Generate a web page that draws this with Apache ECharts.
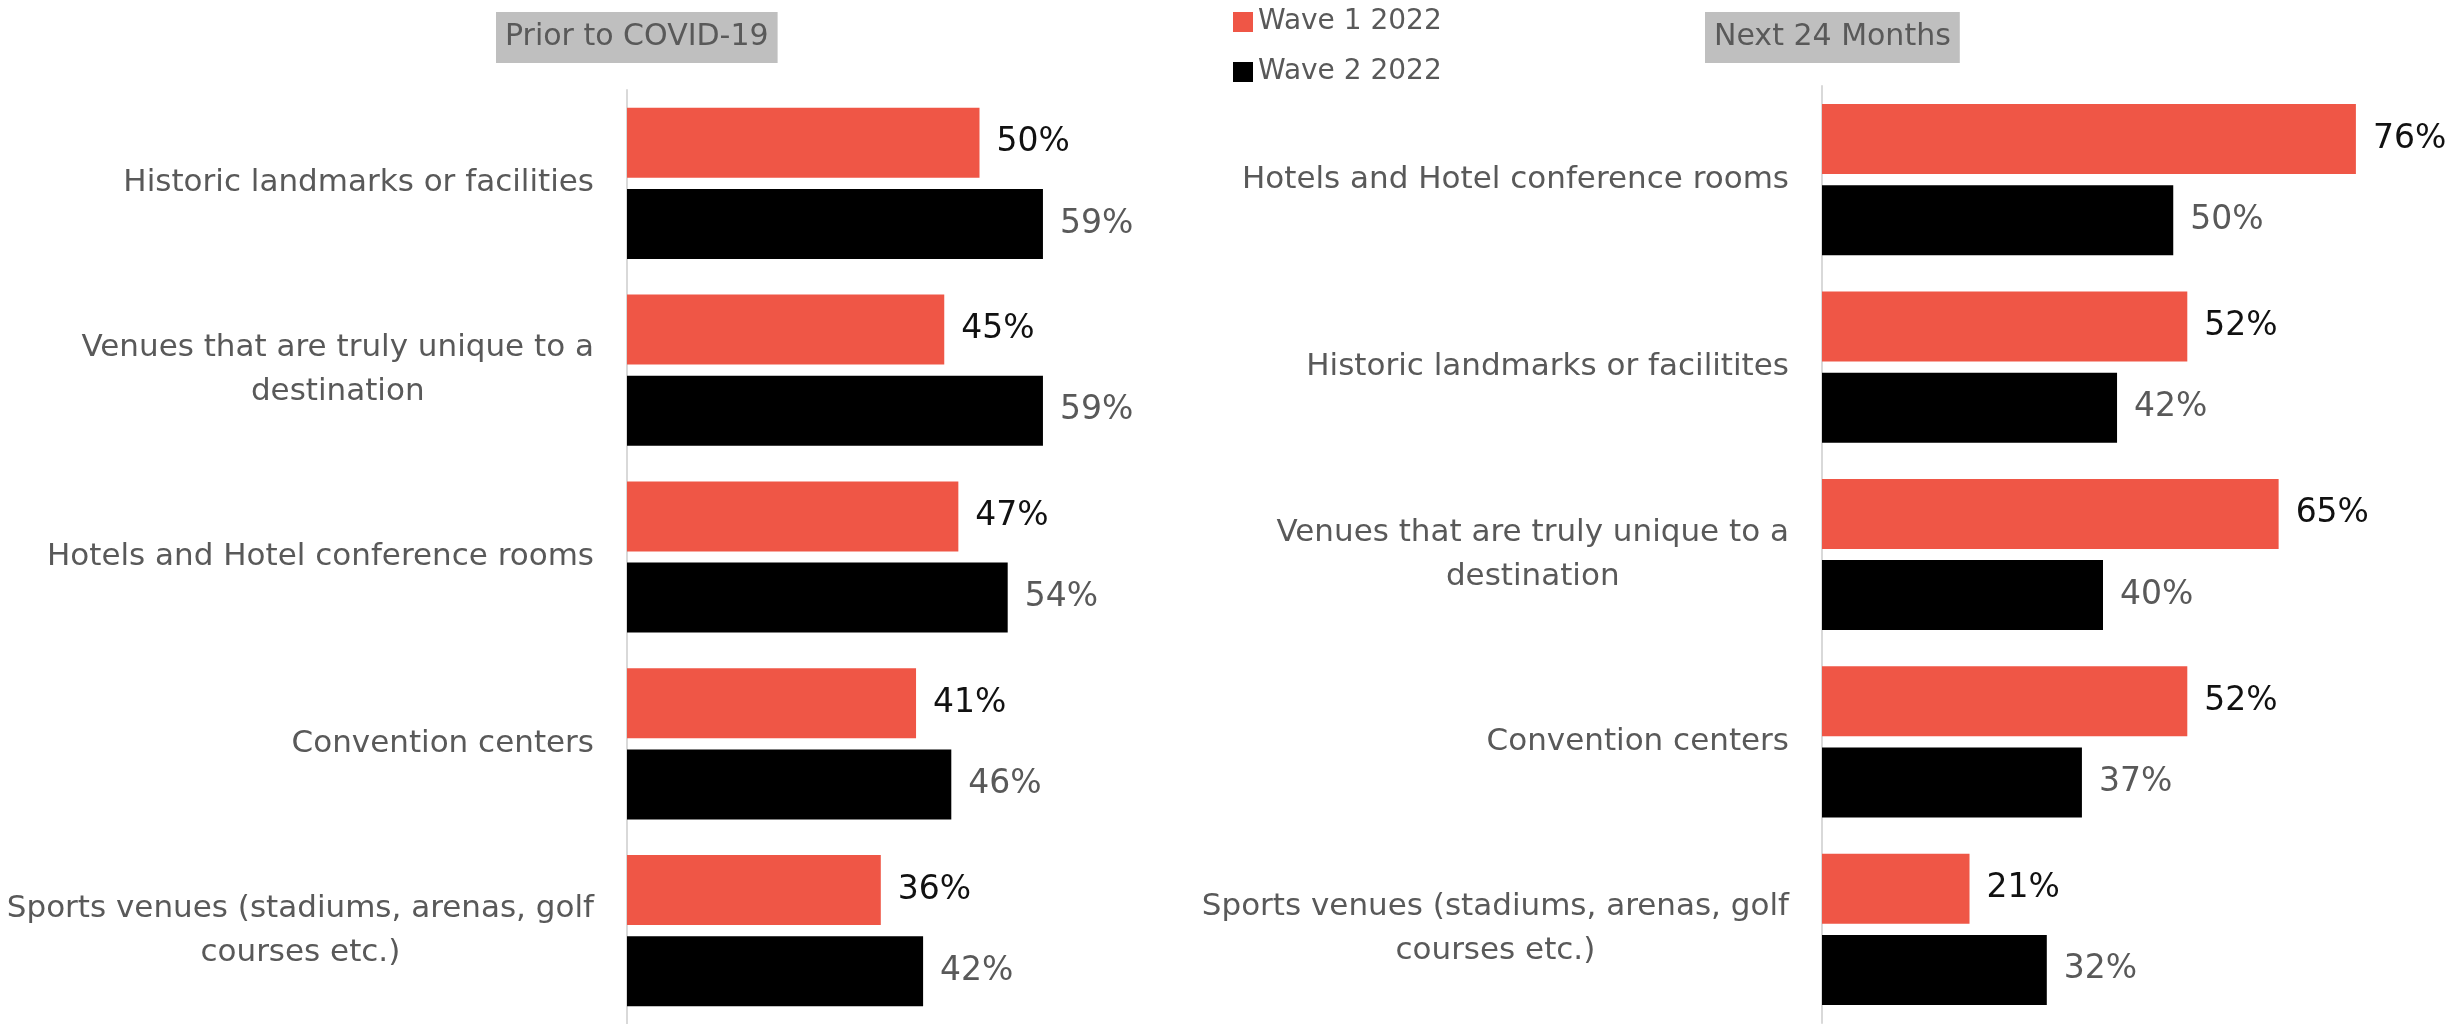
<!DOCTYPE html>
<html>
<head>
<meta charset="utf-8">
<script src="https://cdn.jsdelivr.net/npm/echarts@6/dist/echarts.min.js"></script>
<style>
html,body{margin:0;padding:0;background:#fff;}
#chart{width:2453px;height:1024px;}
</style>
</head>
<body>
<div id="chart"></div>
<script>
// ---- data ----
const seriesNames = ['Wave 1 2022', 'Wave 2 2022'];
const panelTitles = ['Prior to COVID-19', 'Next 24 Months'];

const priorCategories = [
  'Historic landmarks or facilities',
  'Venues that are truly unique to a\ndestination',
  'Hotels and Hotel conference rooms',
  'Convention centers',
  'Sports venues (stadiums, arenas, golf\ncourses etc.)'
];
const priorWave1 = [50, 45, 47, 41, 36];
const priorWave2 = [59, 59, 54, 46, 42];

const nextCategories = [
  'Hotels and Hotel conference rooms',
  'Historic landmarks or facilitites',
  'Venues that are truly unique to a\ndestination',
  'Convention centers',
  'Sports venues (stadiums, arenas, golf\ncourses etc.)'
];
const nextWave1 = [76, 52, 65, 52, 21];
const nextWave2 = [50, 42, 40, 37, 32];

// ---- styling ----
const FONT = 'DejaVu Sans';
const RED = '#EF5646';
const BLACK = '#000000';
const GREY_TEXT = '#595959';

function catFormatter(v) {
  return v.split('\n').map(function (l) { return '{c|' + l + '}'; }).join('\n');
}

function catAxis(idx, cats) {
  return {
    type: 'category', gridIndex: idx, data: cats, inverse: true,
    axisLine: { show: true, lineStyle: { color: '#d9d9d9', width: 2 } },
    axisTick: { show: false },
    axisLabel: {
      margin: 33, align: 'right', formatter: catFormatter,
      rich: { c: { align: 'center', fontFamily: FONT, fontSize: 31, color: GREY_TEXT, lineHeight: 44 } }
    }
  };
}
function valAxis(idx) {
  return {
    type: 'value', gridIndex: idx, min: 0, max: 80,
    show: false, splitLine: { show: false }
  };
}
function barSeries(name, data, idx, color, labelColor) {
  return {
    name: name, type: 'bar', xAxisIndex: idx, yAxisIndex: idx, data: data,
    barWidth: 70, barGap: '16%',
    itemStyle: { color: color },
    label: {
      show: true, position: 'right', distance: 17, formatter: '{c}%',
      fontFamily: FONT, fontSize: 33, color: labelColor
    }
  };
}

const titleText = { fontFamily: FONT, fontSize: 30, fontWeight: 'normal', color: GREY_TEXT, lineHeight: 31 };

const chart = echarts.init(document.getElementById('chart'), null, { renderer: 'canvas' });
chart.setOption({
  animation: false,
  backgroundColor: '#ffffff',
  title: [
    { text: panelTitles[0], left: 496, top: 12, backgroundColor: '#bfbfbf', padding: [10, 9], textStyle: titleText },
    { text: panelTitles[1], left: 1705, top: 12, backgroundColor: '#bfbfbf', padding: [10, 9], textStyle: titleText }
  ],
  legend: {
    data: seriesNames, orient: 'vertical', left: 1228, top: 2, itemWidth: 20, itemHeight: 20,
    itemGap: 20, icon: 'rect',
    textStyle: { fontFamily: FONT, fontSize: 28, color: GREY_TEXT, lineHeight: 30 }
  },
  grid: [
    { left: 627, top: 90, width: 564, height: 937 },
    { left: 1822, top: 86, width: 562, height: 937 }
  ],
  xAxis: [valAxis(0), valAxis(1)],
  yAxis: [catAxis(0, priorCategories), catAxis(1, nextCategories)],
  series: [
    barSeries(seriesNames[0], priorWave1, 0, RED, '#111111'),
    barSeries(seriesNames[1], priorWave2, 0, BLACK, GREY_TEXT),
    barSeries(seriesNames[0], nextWave1, 1, RED, '#111111'),
    barSeries(seriesNames[1], nextWave2, 1, BLACK, GREY_TEXT)
  ]
});
</script>
</body>
</html>
